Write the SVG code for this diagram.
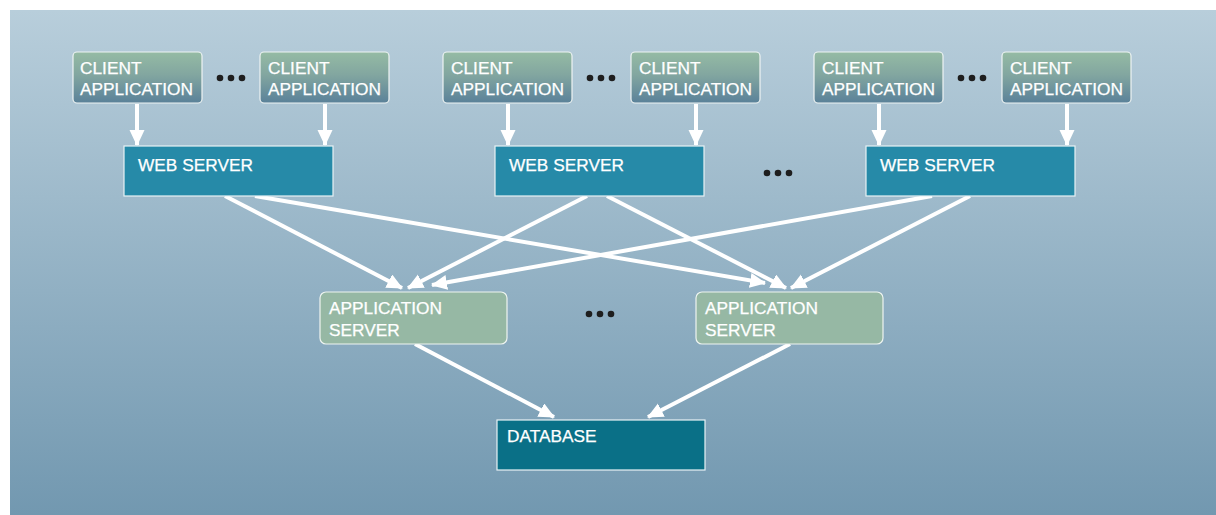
<svg xmlns="http://www.w3.org/2000/svg" width="1216" height="515" viewBox="0 0 1216 515">
  <defs>
    <linearGradient id="bg" x1="0" y1="0" x2="0" y2="1">
      <stop offset="0" stop-color="#b8cedb"/>
      <stop offset="1" stop-color="#7298b0"/>
    </linearGradient>
    <linearGradient id="clientFill" x1="0" y1="0" x2="0" y2="1">
      <stop offset="0" stop-color="#95bba4"/>
      <stop offset="0.45" stop-color="#82a6a0"/>
      <stop offset="1" stop-color="#5a8199"/>
    </linearGradient>
    <marker id="arrow" markerUnits="userSpaceOnUse" markerWidth="18" markerHeight="16" refX="15" refY="7.5" orient="auto">
      <path d="M0,0 L16,7.5 L0,15 z" fill="#ffffff"/>
    </marker>
    <style>
      .lbl { font-family: "Liberation Sans", Arial, sans-serif; font-size: 17.3px; fill: #ffffff; stroke: #ffffff; stroke-width: 0.25; }
      .client { fill: url(#clientFill); stroke: #eef4f3; stroke-width: 1.2; }
      .web { fill: #268aa8; stroke: #e8f2f5; stroke-width: 1.2; }
      .app { fill: #96b8a4; stroke: #eef4f0; stroke-width: 1.2; }
      .db { fill: #0a7087; stroke: #e8f2f5; stroke-width: 1.2; }
      .dot { fill: #1e1e1e; }
      .conn line { stroke: #ffffff; stroke-width: 4; marker-end: url(#arrow); }
    </style>
  </defs>

  <!-- backdrop -->
  <rect x="10" y="10" width="1206" height="505" fill="url(#bg)"/>

  <!-- connectors -->
  <g id="connectors" class="conn">
    <!-- clients to web servers -->
    <line x1="137" y1="104" x2="137" y2="145"/>
    <line x1="325" y1="104" x2="325" y2="145"/>
    <line x1="508" y1="104" x2="508" y2="145"/>
    <line x1="696" y1="104" x2="696" y2="145"/>
    <line x1="879" y1="104" x2="879" y2="145"/>
    <line x1="1067" y1="104" x2="1067" y2="145"/>
    <!-- web servers to application servers -->
    <line x1="225" y1="196" x2="402" y2="288"/>
    <line x1="255" y1="196" x2="765" y2="283"/>
    <line x1="587" y1="196" x2="408" y2="288"/>
    <line x1="607" y1="196" x2="786" y2="288"/>
    <line x1="932" y1="196" x2="432" y2="285"/>
    <line x1="970" y1="196" x2="791" y2="288"/>
    <!-- application servers to database -->
    <line x1="415" y1="344" x2="554" y2="417"/>
    <line x1="790" y1="344" x2="648" y2="417"/>
  </g>

  <!-- client applications -->
  <g id="client1"><rect class="client" x="73" y="52" width="129" height="51" rx="4"/><text class="lbl" x="80" y="73.5">CLIENT</text><text class="lbl" x="80" y="94.5">APPLICATION</text></g>
  <g id="client2"><rect class="client" x="260" y="52" width="129" height="51" rx="4"/><text class="lbl" x="268" y="73.5">CLIENT</text><text class="lbl" x="268" y="94.5">APPLICATION</text></g>
  <g id="client3"><rect class="client" x="443" y="52" width="129" height="51" rx="4"/><text class="lbl" x="451" y="73.5">CLIENT</text><text class="lbl" x="451" y="94.5">APPLICATION</text></g>
  <g id="client4"><rect class="client" x="631" y="52" width="129" height="51" rx="4"/><text class="lbl" x="639" y="73.5">CLIENT</text><text class="lbl" x="639" y="94.5">APPLICATION</text></g>
  <g id="client5"><rect class="client" x="814" y="52" width="129" height="51" rx="4"/><text class="lbl" x="822" y="73.5">CLIENT</text><text class="lbl" x="822" y="94.5">APPLICATION</text></g>
  <g id="client6"><rect class="client" x="1002" y="52" width="129" height="51" rx="4"/><text class="lbl" x="1010" y="73.5">CLIENT</text><text class="lbl" x="1010" y="94.5">APPLICATION</text></g>

  <!-- web servers -->
  <g id="web1"><rect class="web" x="124" y="146" width="209" height="50"/><text class="lbl" x="138" y="171">WEB SERVER</text></g>
  <g id="web2"><rect class="web" x="495" y="146" width="209" height="50"/><text class="lbl" x="509" y="171">WEB SERVER</text></g>
  <g id="web3"><rect class="web" x="866" y="146" width="209" height="50"/><text class="lbl" x="880" y="171">WEB SERVER</text></g>

  <!-- application servers -->
  <g id="app1"><rect class="app" x="320" y="292" width="187" height="52" rx="6"/><text class="lbl" x="329" y="313.5">APPLICATION</text><text class="lbl" x="329" y="335.5">SERVER</text></g>
  <g id="app2"><rect class="app" x="696" y="292" width="187" height="52" rx="6"/><text class="lbl" x="705" y="313.5">APPLICATION</text><text class="lbl" x="705" y="335.5">SERVER</text></g>

  <!-- database -->
  <g id="database"><rect class="db" x="497" y="420" width="208" height="50"/><text class="lbl" x="507" y="442">DATABASE</text></g>

  <!-- ellipses -->
  <g id="ellipses">
    <circle class="dot" cx="220" cy="78" r="3.3"/><circle class="dot" cx="231" cy="78" r="3.3"/><circle class="dot" cx="242" cy="78" r="3.3"/>
    <circle class="dot" cx="590" cy="78" r="3.3"/><circle class="dot" cx="601" cy="78" r="3.3"/><circle class="dot" cx="612" cy="78" r="3.3"/>
    <circle class="dot" cx="961" cy="78" r="3.3"/><circle class="dot" cx="972" cy="78" r="3.3"/><circle class="dot" cx="983" cy="78" r="3.3"/>
    <circle class="dot" cx="767" cy="173" r="3.3"/><circle class="dot" cx="778" cy="173" r="3.3"/><circle class="dot" cx="789" cy="173" r="3.3"/>
    <circle class="dot" cx="589" cy="314" r="3.3"/><circle class="dot" cx="600" cy="314" r="3.3"/><circle class="dot" cx="611" cy="314" r="3.3"/>
  </g>
</svg>
